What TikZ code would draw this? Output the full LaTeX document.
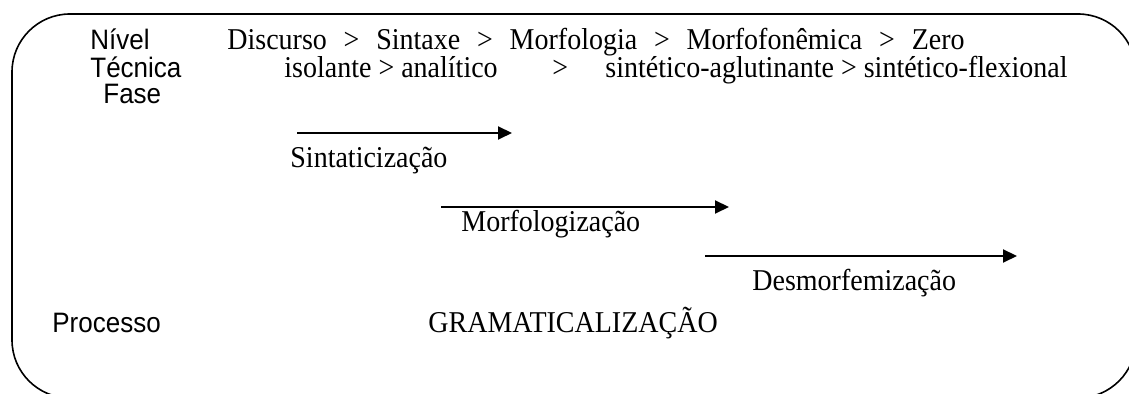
\documentclass[tikz,border=0pt]{standalone}
\usepackage{graphicx}
\usepackage{fontspec}
\setmainfont{Liberation Serif}
\newfontfamily\rotulofont{Liberation Sans}
\usetikzlibrary{arrows.meta}
\newcommand\maior{\hspace{0.6em}>\hspace{0.6em}}
\newcommand\alto[1]{\scalebox{1}[1.08]{#1}}

\begin{document}
\begin{tikzpicture}[
    x=0.5pt, y=-0.5pt,
    termo/.style={anchor=base west, inner sep=0pt, font=\fontsize{14}{16}\selectfont},
    rotulo/.style={anchor=base west, inner sep=0pt, font=\rotulofont\fontsize{13}{15}\selectfont},
    fase/.style={-{Triangle[length=7pt, width=6.5pt]}, line width=1pt},
  ]
  \useasboundingbox (0,0) rectangle (1129,394);
  \clip (0,0) rectangle (1129,394);

  %% Moldura
  \draw[line width=0.8pt, rounded corners=29pt] (12,14) rectangle (1136,398);

  %% Rotulos da esquerda
  \node[rotulo] (nivel)    at (90,50)   {\alto{Nível}};
  \node[rotulo] (tecnica)  at (90,78)   {\alto{Técnica}};
  \node[rotulo] (fase)     at (103,104) {\alto{Fase}};
  \node[rotulo] (processo) at (52,333)  {\alto{Processo}};

  %% Escalas
  \node[termo] (niveis) at (227,50)
    {\alto{Discurso\maior Sintaxe\maior Morfologia\maior Morfofonêmica\maior Zero}};
  \node[termo] (tec1) at (284,78) {\alto{isolante > analítico}};
  \node[termo] (tec2) at (552,78) {\alto{>}};
  \node[termo] (tec3) at (605,78) {\alto{sintético-aglutinante > sintético-flexional}};

  %% Fases
  \coordinate (s1) at (297,133);  \coordinate (e1) at (512,133);
  \coordinate (s2) at (441,207);  \coordinate (e2) at (729,207);
  \coordinate (s3) at (705,256);  \coordinate (e3) at (1017,256);

  \draw[fase] (s1) -- (e1);
  \draw[fase] (s2) -- (e2);
  \draw[fase] (s3) -- (e3);

  \node[termo] (sint) at (290,168) {\alto{Sintaticização}};
  \node[termo] (morf) at (461,232) {\alto{Morfologização}};
  \node[termo] (desm) at (752,291) {\alto{Desmorfemização}};

  %% Processo
  \node[termo] (gram) at (428,333) {\alto{GRAMATICALIZAÇÃO}};

\end{tikzpicture}
\end{document}
